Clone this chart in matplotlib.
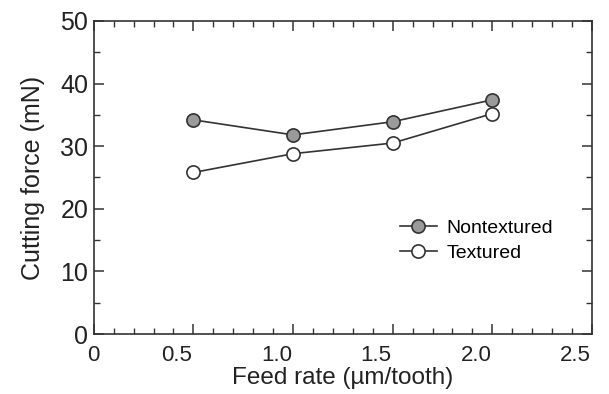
import numpy as np
from matplotlib import pyplot as plt
from matplotlib.ticker import MultipleLocator
from matplotlib.transforms import ScaledTranslation

feed = [0.5, 1.0, 1.5, 2.0]
nontextured = [34.2, 31.8, 33.9, 37.4]
textured = [25.8, 28.8, 30.5, 35.2]
xtick_vals = [0, 0.5, 1.0, 1.5, 2.0, 2.5]
xtick_text = ['0', '0.5', '1.0', '1.5', '2.0', '2.5']

plt.rcParams['font.family'] = ['Liberation Sans', 'DejaVu Sans']

fig = plt.figure(figsize=(6.09, 3.94), dpi=100)
ax = fig.add_axes([0.154, 0.152, 0.818, 0.795])

ax.plot(feed, nontextured, '-o', color='#333333', lw=1.2, ms=9.5,
        mfc='#9a9a9a', mec='#333333', mew=1.2, label='Nontextured')
ax.plot(feed, textured, '-o', color='#333333', lw=1.2, ms=9.5,
        mfc='white', mec='#333333', mew=1.2, label='Textured')

ax.set_xlim(0, 2.5)
ax.set_ylim(0, 50)
ax.set_xticks(xtick_vals)
ax.set_xticklabels(xtick_text)
ax.xaxis.set_minor_locator(MultipleLocator(0.1))
ax.yaxis.set_major_locator(MultipleLocator(10))
ax.yaxis.set_minor_locator(MultipleLocator(5))
ax.tick_params(which='both', direction='in', top=True, right=True,
               color='#333333', labelcolor='#222222')
ax.tick_params(axis='x', labelsize=16, pad=7.5)
ax.tick_params(axis='y', labelsize=18, pad=4)
ax.tick_params(which='major', length=7, width=1.1)
ax.tick_params(which='minor', length=4, width=1.0)
for s in ax.spines.values():
    s.set_color('#333333')
    s.set_linewidth(1.2)

# x tick labels in the original sit left of their ticks (right-aligned)
for i, lab in enumerate(ax.get_xticklabels()):
    if i > 0:
        lab.set_ha('right')
        lab.set_transform(lab.get_transform() + ScaledTranslation(-1 / 100, 0, fig.dpi_scale_trans))

ax.set_xlabel('Feed rate (µm/tooth)', fontsize=17.5, color='#222222', labelpad=1)
ax.set_ylabel('Cutting force (mN)', fontsize=18, color='#222222', labelpad=11)

ax.legend(loc='center left', bbox_to_anchor=(0.614, 0.299), frameon=False,
          fontsize=14, handlelength=1.9, handletextpad=0.5, labelspacing=0.4,
          borderpad=0, borderaxespad=0)

fig.savefig('out.png', dpi=100)
